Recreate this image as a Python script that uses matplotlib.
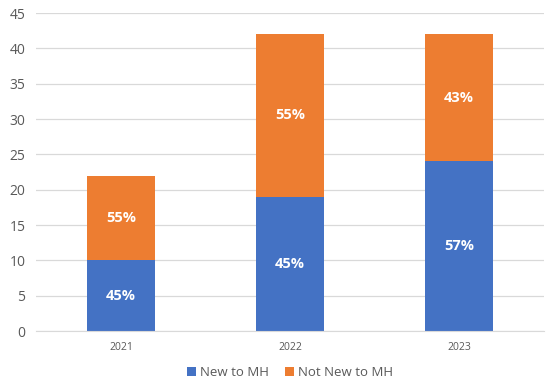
"""Stacked bar chart: New to MH vs Not New to MH by year."""

import matplotlib

matplotlib.use("Agg")
import matplotlib.pyplot as plt
import numpy as np

years = ["2021", "2022", "2023"]
new_to_mh = [10, 19, 24]
not_new_to_mh = [12, 23, 18]
new_labels = ["45%", "45%", "57%"]
not_new_labels = ["55%", "55%", "43%"]

BLUE = "#4472C4"
ORANGE = "#ED7D31"
GREY_TEXT = "#595959"
GRID = "#D9D9D9"

plt.rcParams["font.family"] = ["Open Sans", "DejaVu Sans"]

fig = plt.figure(figsize=(5.47, 3.92), dpi=100)
ax = fig.add_axes([0.0667, 0.1556, 0.927, 0.8112])

x = np.arange(len(years))
width = 0.4
bottom_bars = ax.bar(x, new_to_mh, width, color=BLUE, label="New to MH", zorder=2)
top_bars = ax.bar(x, not_new_to_mh, width, bottom=new_to_mh, color=ORANGE,
                  label="Not New to MH", zorder=2)

for bars, labels in ((bottom_bars, new_labels), (top_bars, not_new_labels)):
    for rect, text in zip(bars, labels):
        cy = rect.get_y() + rect.get_height() / 2
        ax.text(rect.get_x() + rect.get_width() / 2, cy, text, ha="center", va="center",
                color="white", fontsize=10.5, fontweight="bold", zorder=3)

ax.set_xlim(-0.5, len(years) - 0.5)
ax.set_ylim(0, 45)
ax.set_yticks(np.arange(0, 46, 5))
ax.set_xticks(x)
ax.set_xticklabels(years)
ax.yaxis.grid(True, color=GRID, linewidth=0.9, zorder=0)
ax.set_axisbelow(True)
for side in ("top", "right", "left"):
    ax.spines[side].set_visible(False)
ax.spines["bottom"].set_color(GRID)
ax.tick_params(axis="y", length=0, labelsize=10, labelcolor=GREY_TEXT, pad=8)
ax.tick_params(axis="x", length=0, labelsize=7.5, labelcolor=GREY_TEXT, pad=8)

fig.legend(loc="center", bbox_to_anchor=(0.53, 0.05), ncol=2, frameon=False,
           fontsize=9.5, labelcolor=GREY_TEXT, handlelength=0.7, handleheight=0.7,
           handletextpad=0.3, columnspacing=1.2)

fig.savefig("out.png", dpi=100)
